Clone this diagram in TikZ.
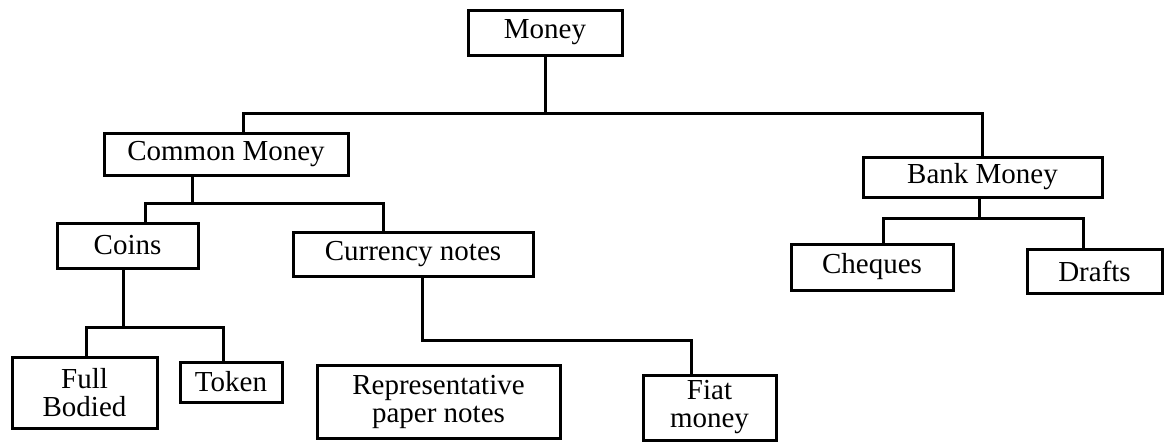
\documentclass[tikz,border=0pt]{standalone}
\usepackage{fontspec}
\setmainfont{Liberation Serif}
\begin{document}
\begin{tikzpicture}[x=1pt,y=-1pt,
  box/.style={draw, line width=3pt, inner sep=0pt, align=center,
    font=\fontsize{29}{28}\selectfont},
  conn/.style={line width=3pt, line join=miter}]
\useasboundingbox (0,0) rectangle (1164,442);
% nodes
\node[box, minimum width=154pt, minimum height=45pt] (money) at (545,32.5) {Money};
\node[box, minimum width=244pt, minimum height=42pt] (cm) at (226,154) {Common Money};
\node[box, minimum width=239pt, minimum height=40pt] (bm) at (982.5,177) {Bank Money};
\node[box, minimum width=141pt, minimum height=45pt] (coins) at (127.5,245.5) {Coins};
\node[box, minimum width=240pt, minimum height=44pt] (cn) at (413,254) {Currency notes};
\node[box, minimum width=162pt, minimum height=46pt] (cheq) at (872,267) {Cheques};
\node[box, minimum width=135pt, minimum height=44pt] (drafts) at (1094.5,271) {Drafts};
\node[box, minimum width=145pt, minimum height=71pt] (fb) at (84.5,392.5) {Full\\Bodied};
\node[box, minimum width=102pt, minimum height=40pt] (token) at (231,382) {Token};
\node[box, minimum width=243pt, minimum height=73pt] (rep) at (438.5,401.5) {Representative\\paper notes};
\node[box, minimum width=133pt, minimum height=65pt] (fiat) at (709.5,407.5) {Fiat\\money};
% bus levels
\coordinate (busA) at (0,113);
\coordinate (busB) at (0,203);
\coordinate (busC) at (0,218);
\coordinate (busD) at (0,327);
\coordinate (busE) at (0,340);
% connectors
\draw[conn] (money.south) -- (money.south |- busA);
\draw[conn] ([xshift=17pt]cm.north) |- (money.south |- busA) -| (bm.north);
\draw[conn] ([xshift=-34pt]cm.south) -- ([xshift=-34pt]cm.south |- busB);
\draw[conn] ([xshift=18pt]coins.north) |- ([xshift=-34pt]cm.south |- busB) -| ([xshift=-30pt]cn.north);
\draw[conn] ([xshift=-3pt]bm.south) -- ([xshift=-3pt]bm.south |- busC);
\draw[conn] ([xshift=11pt]cheq.north) |- ([xshift=-3pt]bm.south |- busC) -| ([xshift=-11pt]drafts.north);
\draw[conn] ([xshift=-4pt]coins.south) -- ([xshift=-4pt]coins.south |- busD);
\draw[conn] ([xshift=2pt]fb.north) |- ([xshift=-4pt]coins.south |- busD) -| ([xshift=-8pt]token.north);
\draw[conn] ([xshift=9pt]cn.south) |- ([xshift=-18pt]fiat.north |- busE) -- ([xshift=-18pt]fiat.north);
\end{tikzpicture}
\end{document}
